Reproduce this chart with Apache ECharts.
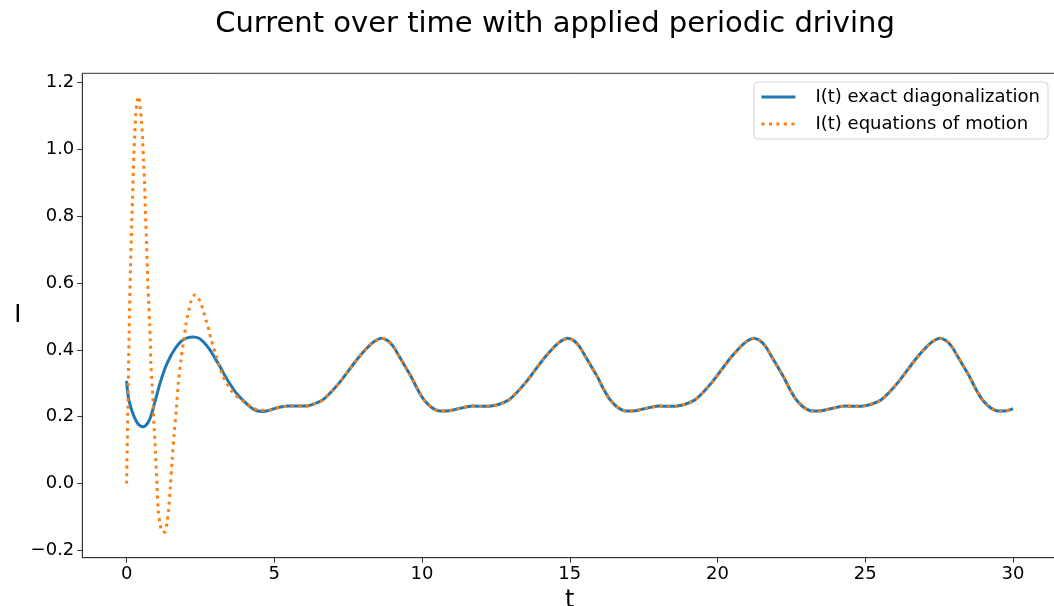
<!DOCTYPE html>
<html>
<head>
<meta charset="utf-8">
<script src="https://cdn.jsdelivr.net/npm/echarts@6/dist/echarts.min.js"></script>
<style>
html,body{margin:0;padding:0;background:#fff;}
#chart{width:1054px;height:606px;}
</style>
</head>
<body>
<div id="chart"></div>
<script>
// ---- data ----
const tExactEarly = [0, 0.055, 0.17, 0.28, 0.39, 0.56, 0.73, 0.85, 0.96, 1.13, 1.30, 1.47, 1.65, 1.86, 2.05, 2.26, 2.45, 2.62, 2.82, 2.99, 3.16, 3.33, 3.50, 3.70, 3.95, 4.20, 4.40, 4.65, 4.96, 5.25, 5.47, 5.8, 6.1];
const iExactEarly = [0.307, 0.26, 0.22, 0.195, 0.178, 0.17, 0.183, 0.21, 0.245, 0.30, 0.345, 0.378, 0.405, 0.427, 0.436, 0.439, 0.435, 0.422, 0.40, 0.375, 0.35, 0.323, 0.298, 0.272, 0.248, 0.228, 0.218, 0.216, 0.223, 0.23, 0.232, 0.232, 0.232];

const tEomEarly = [0, 0.04, 0.085, 0.13, 0.18, 0.25, 0.315, 0.36, 0.41, 0.46, 0.51, 0.54, 0.575, 0.61, 0.64, 0.68, 0.71, 0.745, 0.78, 0.80, 0.82, 0.87, 0.92, 0.98, 1.03, 1.07, 1.13, 1.21, 1.30, 1.36, 1.42, 1.48, 1.54, 1.61, 1.68, 1.75, 1.84, 1.92, 2.01, 2.06, 2.11, 2.18, 2.32, 2.47, 2.57, 2.65, 2.72, 2.79, 2.85, 2.93, 3.01, 3.08, 3.16, 3.27, 3.39, 3.53, 3.67, 3.87, 4.06, 4.29, 4.55, 4.79, 5.03, 5.30, 5.56, 5.8, 6.1];
const iEomEarly = [0.0, 0.22, 0.45, 0.64, 0.795, 0.99, 1.11, 1.145, 1.159, 1.124, 1.077, 1.03, 0.965, 0.894, 0.80, 0.71, 0.615, 0.545, 0.48, 0.43, 0.36, 0.29, 0.19, 0.09, -0.01, -0.08, -0.12, -0.145, -0.145, -0.12, -0.08, -0.01, 0.07, 0.15, 0.22, 0.30, 0.37, 0.42, 0.477, 0.50, 0.52, 0.545, 0.565, 0.548, 0.525, 0.50, 0.48, 0.458, 0.435, 0.41, 0.39, 0.368, 0.345, 0.32, 0.30, 0.28, 0.265, 0.252, 0.24, 0.225, 0.22, 0.218, 0.225, 0.23, 0.233, 0.232, 0.232];

// after the transient both curves coincide
const tTail = [
  6.33, 6.63, 6.93, 7.23, 7.53, 7.83, 8.13, 8.38, 8.63, 8.83, 9.03, 9.23, 9.43, 9.63, 9.83, 10.03, 10.23, 10.43, 10.63, 10.83, 11.13, 11.43, 11.73, 12.03, 12.33,
  12.63, 12.93, 13.23, 13.53, 13.83, 14.13, 14.43, 14.68, 14.93, 15.13, 15.33, 15.53, 15.73, 15.93, 16.13, 16.33, 16.53, 16.73, 16.93, 17.13, 17.43, 17.73, 18.03, 18.33, 18.63,
  18.93, 19.23, 19.53, 19.83, 20.13, 20.43, 20.73, 20.98, 21.23, 21.43, 21.63, 21.83, 22.03, 22.23, 22.43, 22.63, 22.83, 23.03, 23.23, 23.43, 23.73, 24.03, 24.33, 24.63, 24.93,
  25.23, 25.53, 25.83, 26.13, 26.43, 26.73, 27.03, 27.28, 27.53, 27.73, 27.93, 28.13, 28.33, 28.53, 28.73, 28.93, 29.13, 29.33, 29.53, 29.73, 30.0
];
const iTail = [
  0.238, 0.25, 0.275, 0.305, 0.34, 0.375, 0.405, 0.425, 0.435, 0.428, 0.41, 0.38, 0.35, 0.32, 0.285, 0.255, 0.235, 0.222, 0.217, 0.217, 0.222, 0.228, 0.232, 0.231, 0.232,
  0.238, 0.25, 0.275, 0.305, 0.34, 0.375, 0.405, 0.425, 0.435, 0.428, 0.41, 0.38, 0.35, 0.32, 0.285, 0.255, 0.235, 0.222, 0.217, 0.217, 0.222, 0.228, 0.232, 0.231, 0.232,
  0.238, 0.25, 0.275, 0.305, 0.34, 0.375, 0.405, 0.425, 0.435, 0.428, 0.41, 0.38, 0.35, 0.32, 0.285, 0.255, 0.235, 0.222, 0.217, 0.217, 0.222, 0.228, 0.232, 0.231, 0.232,
  0.238, 0.25, 0.275, 0.305, 0.34, 0.375, 0.405, 0.425, 0.435, 0.428, 0.41, 0.38, 0.35, 0.32, 0.285, 0.255, 0.235, 0.222, 0.217, 0.217, 0.224
];

const xTicks = [0, 5, 10, 15, 20, 25, 30];
const yTicks = [-0.2, 0.0, 0.2, 0.4, 0.6, 0.8, 1.0, 1.2];

const seriesNames = ['I(t) exact diagonalization', 'I(t) equations of motion'];
const titleText = 'Current over time with applied periodic driving';

// ---- build ----
function pairs(ts, vs) { return ts.map((t, i) => [t, vs[i]]); }
const exactData = pairs(tExactEarly, iExactEarly).concat(pairs(tTail, iTail));
const eomData = pairs(tEomEarly, iEomEarly).concat(pairs(tTail, iTail));

const FONT = 'DejaVu Sans';
const fmt = v => Number(v).toFixed(1).replace('-', '\u2212');

const chart = echarts.init(document.getElementById('chart'), null, {renderer: 'canvas'});
chart.setOption({
  animation: false,
  backgroundColor: '#fff',
  textStyle: {fontFamily: FONT},
  title: {
    text: titleText,
    left: 550, top: 5, textAlign: 'center',
    textStyle: {fontFamily: FONT, fontSize: 29, fontWeight: 'normal', color: '#000'}
  },
  grid: {
    left: 82.3, top: 73.3, right: -3.3, bottom: 48.3,
    containLabel: false, outerBoundsMode: 'none',
    show: true, borderColor: '#333', borderWidth: 1, backgroundColor: 'transparent'
  },
  legend: {
    orient: 'vertical', right: 6, top: 82,
    data: seriesNames,
    itemWidth: 34, itemHeight: 14, itemGap: 7,
    padding: [5, 8, 5, 6],
    borderColor: '#d4d4d4', borderWidth: 1, borderRadius: 4,
    backgroundColor: 'rgba(255,255,255,0.8)',
    itemStyle: {opacity: 0},
    lineStyle: {width: 3},
    textStyle: {fontFamily: FONT, fontSize: 18, color: '#000', lineHeight: 20, padding: [0, 0, 0, 15]}
  },
  xAxis: {
    type: 'value', min: -1.5, max: 31.5,
    name: 't', nameLocation: 'middle', nameGap: 17,
    nameTextStyle: {fontFamily: FONT, fontSize: 24, color: '#000'},
    axisLine: {show: true, onZero: false, lineStyle: {color: '#333', width: 1}},
    axisTick: {show: true, length: 5, lineStyle: {color: '#333'}, customValues: xTicks},
    axisLabel: {fontFamily: FONT, fontSize: 18, color: '#000', margin: 8, customValues: xTicks, formatter: v => String(v)},
    splitLine: {show: false}
  },
  yAxis: {
    type: 'value', min: -0.222, max: 1.228,
    name: 'I', nameLocation: 'middle', nameGap: 61, nameRotate: 0,
    nameTextStyle: {fontFamily: FONT, fontSize: 24, color: '#000'},
    axisLine: {show: true, onZero: false, lineStyle: {color: '#333', width: 1}},
    axisTick: {show: true, length: 5, lineStyle: {color: '#333'}, customValues: yTicks},
    axisLabel: {fontFamily: FONT, fontSize: 18, color: '#000', margin: 8, customValues: yTicks, formatter: v => fmt(v)},
    splitLine: {show: false}
  },
  series: [
    {
      name: seriesNames[0], type: 'line', data: exactData,
      showSymbol: false, symbol: 'none', smooth: 0.3, clip: true,
      lineStyle: {color: '#1f77b4', width: 3},
      itemStyle: {color: '#1f77b4'}, z: 2
    },
    {
      name: seriesNames[1], type: 'line', data: eomData,
      showSymbol: false, symbol: 'none', smooth: 0.3, clip: true,
      lineStyle: {color: '#ff7f0e', width: 3, type: [3, 4.5], cap: 'butt'},
      itemStyle: {color: '#ff7f0e'}, z: 3
    }
  ]
});
</script>
</body>
</html>
